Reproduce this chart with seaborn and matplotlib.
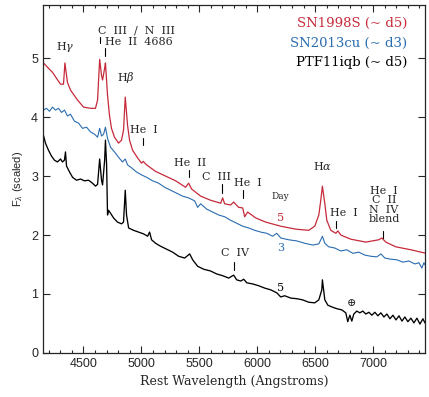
import matplotlib
matplotlib.use("Agg")
import matplotlib.pyplot as plt
import seaborn as sns
from matplotlib.ticker import MultipleLocator

# spectra (rest wavelength in A, scaled flux)
wave_98s = [4155, 4198, 4233, 4267, 4302, 4328, 4340, 4362, 4388, 4449, 4501, 4561, 4604, 4622,
            4640, 4656, 4665, 4683, 4690, 4708, 4725, 4742, 4768, 4803, 4829, 4846, 4861, 4881,
            4898, 4924, 4967, 5002, 5016, 5045, 5123, 5209, 5296, 5382, 5408, 5434, 5512, 5598,
            5685, 5702, 5719, 5771, 5797, 5840, 5875, 5892, 5918, 5987, 6073, 6203, 6333, 6445,
            6497, 6532, 6549, 6563, 6584, 6601, 6636, 6679, 6697, 6722, 6808, 6938, 7050, 7076,
            7111, 7197, 7327, 7457]
flux_98s = [4.92, 4.83, 4.76, 4.66, 4.56, 4.56, 4.92, 4.59, 4.46, 4.29, 4.17, 4.15, 4.15, 4.29,
            4.98, 4.71, 4.63, 4.83, 4.92, 4.37, 4.03, 3.81, 3.66, 3.56, 3.61, 3.78, 4.34, 3.86,
            3.61, 3.44, 3.31, 3.22, 3.25, 3.19, 3.08, 3.00, 2.92, 2.81, 2.88, 2.78, 2.66, 2.59,
            2.54, 2.63, 2.53, 2.51, 2.56, 2.47, 2.46, 2.31, 2.39, 2.29, 2.22, 2.15, 2.10, 2.08,
            2.15, 2.34, 2.59, 2.83, 2.53, 2.25, 2.08, 2.03, 2.07, 2.00, 1.93, 1.88, 1.92, 1.95,
            1.88, 1.80, 1.75, 1.69]

wave_13cu = [4155, 4181, 4207, 4233, 4259, 4285, 4311, 4336, 4362, 4388, 4423, 4457, 4492, 4527,
             4561, 4596, 4622, 4640, 4656, 4674, 4690, 4708, 4734, 4768, 4803, 4837, 4861, 4881,
             4915, 4958, 5002, 5045, 5097, 5149, 5201, 5253, 5305, 5356, 5408, 5460, 5486, 5512,
             5564, 5616, 5668, 5719, 5771, 5823, 5875, 5927, 5979, 6031, 6082, 6134, 6169, 6203,
             6272, 6342, 6411, 6480, 6532, 6549, 6563, 6584, 6618, 6670, 6722, 6774, 6826, 6877,
             6929, 6981, 7033, 7068, 7102, 7154, 7206, 7258, 7310, 7361, 7396, 7422, 7439, 7457]
flux_13cu = [4.12, 4.15, 4.10, 4.17, 4.12, 4.15, 4.08, 4.12, 4.02, 4.05, 3.93, 3.90, 3.81, 3.83,
             3.75, 3.71, 3.66, 3.81, 3.68, 3.71, 3.83, 3.64, 3.49, 3.41, 3.32, 3.24, 3.29, 3.19,
             3.14, 3.07, 3.02, 2.98, 2.92, 2.88, 2.81, 2.76, 2.71, 2.66, 2.63, 2.58, 2.47, 2.53,
             2.44, 2.39, 2.34, 2.31, 2.25, 2.20, 2.15, 2.12, 2.08, 2.05, 2.03, 1.98, 2.03, 1.95,
             1.92, 1.90, 1.86, 1.83, 1.85, 1.92, 1.98, 1.86, 1.80, 1.78, 1.73, 1.75, 1.69, 1.71,
             1.66, 1.64, 1.63, 1.68, 1.61, 1.59, 1.58, 1.54, 1.56, 1.51, 1.53, 1.44, 1.53, 1.47]

wave_11iqb = [4155, 4172, 4198, 4224, 4250, 4276, 4302, 4319, 4336, 4345, 4354, 4380, 4406, 4440,
              4475, 4509, 4544, 4578, 4604, 4622, 4640, 4656, 4665, 4683, 4690, 4700, 4708, 4717,
              4734, 4760, 4794, 4829, 4846, 4861, 4872, 4890, 4933, 4976, 5019, 5054, 5071, 5088,
              5123, 5166, 5218, 5270, 5322, 5374, 5417, 5443, 5486, 5538, 5598, 5650, 5702, 5754,
              5797, 5823, 5858, 5884, 5910, 5962, 6013, 6065, 6117, 6169, 6203, 6238, 6290, 6342,
              6393, 6445, 6497, 6532, 6558, 6563, 6584, 6610, 6645, 6688, 6731, 6765, 6782, 6800,
              6817, 6834, 6860, 6886, 6912, 6938, 6964, 6990, 7016, 7042, 7068, 7094, 7120, 7146,
              7172, 7198, 7224, 7250, 7275, 7301, 7327, 7353, 7379, 7405, 7431, 7448]
flux_11iqb = [3.69, 3.56, 3.44, 3.34, 3.27, 3.24, 3.29, 3.24, 3.27, 3.41, 3.17, 3.07, 2.98, 2.93,
              2.95, 2.92, 2.93, 2.88, 2.83, 2.86, 3.29, 2.93, 2.85, 3.27, 3.61, 3.19, 2.34, 2.42,
              2.37, 2.29, 2.22, 2.19, 2.22, 2.76, 2.34, 2.12, 2.08, 2.05, 2.02, 1.98, 2.05, 1.92,
              1.86, 1.81, 1.76, 1.71, 1.64, 1.61, 1.68, 1.58, 1.47, 1.42, 1.39, 1.34, 1.31, 1.27,
              1.32, 1.24, 1.22, 1.25, 1.19, 1.17, 1.14, 1.10, 1.07, 1.02, 0.95, 0.97, 0.93, 0.92,
              0.90, 0.86, 0.85, 0.90, 1.07, 1.24, 0.90, 0.81, 0.78, 0.75, 0.73, 0.68, 0.53, 0.64,
              0.54, 0.66, 0.71, 0.68, 0.71, 0.66, 0.69, 0.64, 0.69, 0.63, 0.68, 0.61, 0.66, 0.58,
              0.64, 0.56, 0.63, 0.54, 0.61, 0.53, 0.59, 0.51, 0.59, 0.49, 0.58, 0.51]

names = ["SN1998S (~ d5)", "SN2013cu (~ d3)", "PTF11iqb (~ d5)"]
days = ["5", "3", "5"]
day_y = [2.29, 1.78, 1.10]
colors = ["#c62a3a", "#2a6cb0", "black"]

# line identifications: text, wavelength, y
line_labels = ["H$\\gamma$", "C  III  /  N  III", "He  II  4686", "H$\\beta$", "He  I", "He  II",
               "C  III", "He  I", "H$\\alpha$", "He  I", "He  I\nC  II\nN  IV\nblend", "C  IV",
               "$\\oplus$"]
label_x = [4340, 4625, 4690, 4870, 5025, 5417, 5645, 5918, 6563, 6748, 7094, 5806, 6808]
label_y = [5.19, 5.47, 5.27, 4.68, 3.78, 3.22, 2.98, 2.88, 3.17, 2.37, 2.18, 1.69, 0.85]
label_ha = ["center", "left", "left", "center", "center", "center", "center", "center",
            "center", "center", "center", "center", "center"]
label_va = ["center"] * 10 + ["bottom", "center", "center"]

# short vertical marker lines: wavelength, y bottom, y top
mark_x = [4640, 4686, 5016, 5411, 5696, 5876, 6678, 7090, 5800]
mark_y0 = [5.25, 5.03, 3.53, 2.98, 2.71, 2.63, 2.12, 1.95, 1.41]
mark_y1 = [5.36, 5.17, 3.64, 3.10, 2.86, 2.76, 2.24, 2.07, 1.54]

sns.set_style("ticks")
plt.rcParams["font.family"] = ["DejaVu Serif"]
plt.rcParams["mathtext.fontset"] = "dejavuserif"

fig = plt.figure(figsize=(4.29, 3.97), dpi=100)
ax = fig.add_axes([0.100, 0.111, 0.891, 0.876])

spectra = [(wave_98s, flux_98s), (wave_13cu, flux_13cu), (wave_11iqb, flux_11iqb)]
widths = [0.9, 0.8, 0.95]
for (w, f), c, lw in zip(spectra, colors, widths):
    sns.lineplot(x=w, y=f, color=c, lw=lw, ax=ax)

ax.set_xlim(4150, 7450)
ax.set_ylim(0, 5.9)
ax.xaxis.set_major_locator(MultipleLocator(500))
ax.xaxis.set_minor_locator(MultipleLocator(100))
ax.yaxis.set_major_locator(MultipleLocator(1))
ax.tick_params(which="both", direction="in", top=True, right=True, labelsize=9, width=0.8)
ax.tick_params(which="major", length=5)
ax.tick_params(which="minor", length=2.5)
ax.tick_params(axis="y", which="minor", length=0)
for lab in ax.get_xticklabels() + ax.get_yticklabels():
    lab.set_family("Liberation Sans")
for sp in ax.spines.values():
    sp.set_linewidth(0.9)

ax.set_xlabel("Rest Wavelength (Angstroms)", fontsize=9)
ax.set_ylabel("F$_\\lambda$ (scaled)", fontsize=8, family="Liberation Sans")

for txt, x, y, ha, va in zip(line_labels, label_x, label_y, label_ha, label_va):
    ax.text(x, y, txt, ha=ha, va=va, fontsize=8, linespacing=0.95)
for x, y0, y1 in zip(mark_x, mark_y0, mark_y1):
    ax.plot([x, x], [y0, y1], color="black", lw=0.8)

ax.text(6203, 2.66, "Day", ha="center", va="center", fontsize=6.5)
for d, y, c in zip(days, day_y, colors):
    ax.text(6203, y, d, ha="center", va="center", fontsize=8, color=c)

for i, (n, c) in enumerate(zip(names, colors)):
    ax.text(0.953, 0.948 - 0.057 * i, n, transform=ax.transAxes, ha="right", va="center",
            fontsize=9.5, color=c)

plt.savefig("out.png", dpi=100)
plt.close()
